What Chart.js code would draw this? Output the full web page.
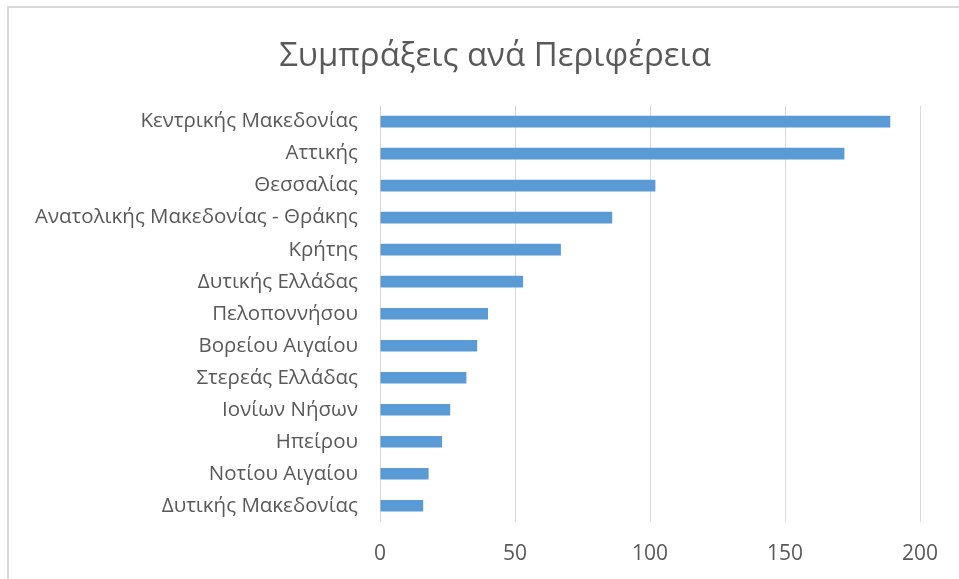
<!DOCTYPE html>
<html>
<head>
<meta charset="utf-8">
<script src="https://cdn.jsdelivr.net/npm/chart.js@4/dist/chart.umd.min.js"></script>
<style>
  html, body { margin: 0; padding: 0; background: #fff; }
  #frame { position: absolute; left: 7px; top: 6px; right: 0; bottom: 0; border-left: 2px solid #d9d9d9; border-top: 2px solid #d9d9d9; }
  #wrap { position: absolute; left: 0; top: 0; width: 959px; height: 579px; }
</style>
</head>
<body>
<div id="frame"></div>
<div id="wrap"><canvas id="myChart" width="959" height="579"></canvas></div>
<script>
// regions, top to bottom
var regions = ["Κεντρικής Μακεδονίας", "Αττικής", "Θεσσαλίας", "Ανατολικής Μακεδονίας - Θράκης",
  "Κρήτης", "Δυτικής Ελλάδας", "Πελοποννήσου", "Βορείου Αιγαίου", "Στερεάς Ελλάδας",
  "Ιονίων Νήσων", "Ηπείρου", "Νοτίου Αιγαίου", "Δυτικής Μακεδονίας"];
var partnerships = [189, 172, 102, 86, 67, 53, 40, 36, 32, 26, 23, 18, 16];
var xTicks = [0, 50, 100, 150, 200];

var fontFamily = "'Open Sans', 'Noto Sans', sans-serif";
var textColor = '#595959';

// centre the title over the frame instead of over the padded canvas
var shiftTitle = {
  id: 'shiftTitle',
  afterLayout: function(chart) {
    chart.titleBlock.left = 70;
  }
};

var ctx = document.getElementById("myChart").getContext("2d");
var chart = new Chart(ctx, {
  type: 'bar',
  data: {
    labels: regions,
    datasets: [{
      label: "Συμπράξεις",
      backgroundColor: '#5b9bd5',
      borderColor: '#5b9bd5',
      borderWidth: 0,
      data: partnerships,
      barPercentage: 0.55,
      categoryPercentage: 0.66
    }]
  },
  plugins: [shiftTitle],
  options: {
    responsive: false,
    animation: false,
    indexAxis: 'y',
    layout: { padding: { left: 0, right: 39, top: 0, bottom: -8 } },
    plugins: {
      legend: { display: false },
      tooltip: { enabled: false },
      title: {
        display: true,
        text: "Συμπράξεις ανά Περιφέρεια",
        color: textColor,
        font: { family: fontFamily, size: 33, weight: 'normal' },
        padding: { top: 37, bottom: 29 }
      }
    },
    scales: {
      x: {
        min: 0,
        max: 200,
        afterBuildTicks: function(scale) {
          scale.ticks = xTicks.map(function(v) { return { value: v }; });
        },
        grid: { color: '#d9d9d9', lineWidth: 1, drawTicks: false },
        border: { display: false },
        ticks: { color: textColor, font: { family: fontFamily, size: 21 }, padding: 20 }
      },
      y: {
        afterFit: function(scale) { scale.width = 380; },
        grid: { display: false, drawTicks: false },
        border: { display: false },
        ticks: { color: textColor, font: { family: fontFamily, size: 20.5 }, padding: 22 }
      }
    }
  }
});
</script>
</body>
</html>
